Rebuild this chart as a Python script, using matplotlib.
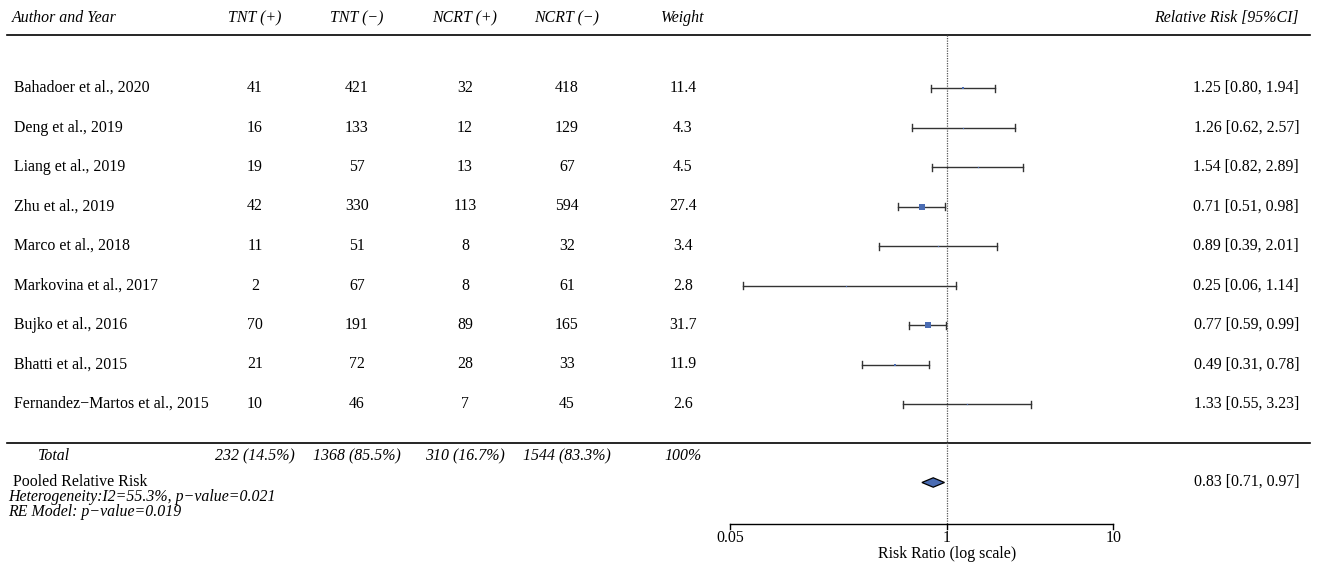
import numpy as np
import matplotlib
matplotlib.use('agg')
import matplotlib.pyplot as plt
from matplotlib.transforms import blended_transform_factory

plt.rcParams['font.family'] = ['Liberation Serif', 'DejaVu Serif']

studies = ["Bahadoer et al., 2020", "Deng et al., 2019", "Liang et al., 2019",
           "Zhu et al., 2019", "Marco et al., 2018", "Markovina et al., 2017",
           "Bujko et al., 2016", "Bhatti et al., 2015", "Fernandez\u2212Martos et al., 2015"]
tnt_pos = [41, 16, 19, 42, 11, 2, 70, 21, 10]
tnt_neg = [421, 133, 57, 330, 51, 67, 191, 72, 46]
ncrt_pos = [32, 12, 13, 113, 8, 8, 89, 28, 7]
ncrt_neg = [418, 129, 67, 594, 32, 61, 165, 33, 45]
weight = [11.4, 4.3, 4.5, 27.4, 3.4, 2.8, 31.7, 11.9, 2.6]
rr = [1.25, 1.26, 1.54, 0.71, 0.89, 0.25, 0.77, 0.49, 1.33]
lo = [0.80, 0.62, 0.82, 0.51, 0.39, 0.06, 0.59, 0.31, 0.55]
hi = [1.94, 2.57, 2.89, 0.98, 2.01, 1.14, 0.99, 0.78, 3.23]

totals = ["232 (14.5%)", "1368 (85.5%)", "310 (16.7%)", "1544 (83.3%)", "100%"]
pooled_rr, pooled_lo, pooled_hi = 0.83, 0.71, 0.97
headers = ["TNT (+)", "TNT (\u2212)", "NCRT (+)", "NCRT (\u2212)", "Weight"]
tick_vals = [0.05, 1, 10]
tick_labels = ["0.05", "1", "10"]

W, H = 1317, 565
fig = plt.figure(figsize=(W / 100, H / 100), dpi=100)
ax = fig.add_axes([0, 0, 1, 1])
ax.set_xscale('log')
# 166.5 px per decade, x=1 at px 946.7
x0 = 946.7
dec = 166.5
ax.set_xlim(10 ** (-x0 / dec), 10 ** ((W - x0) / dec))
ax.set_ylim(H, 0)
ax.axis('off')

tr = blended_transform_factory(ax.transAxes, ax.transData)
fs = 11.4
blue = '#4a6cb3'

col_x = [255, 357, 465, 567, 683]
right_x = 1299
row_y = [88 + 39.5 * i for i in range(len(studies))]

# header
ax.text(12 / W, 18, "Author and Year", transform=tr, ha='left', va='center', style='italic', fontsize=fs)
for cx, h in zip(col_x, headers):
    ax.text(cx / W, 18, h, transform=tr, ha='center', va='center', style='italic', fontsize=fs)
ax.text(right_x / W, 18, "Relative Risk [95%CI]", transform=tr, ha='right', va='center', style='italic', fontsize=fs)

# rules
ax.plot([7 / W, 1310 / W], [35, 35], transform=tr, color='black', lw=1.2)
ax.plot([7 / W, 1310 / W], [443, 443], transform=tr, color='black', lw=1.2)

# reference line at 1
ax.plot([1, 1], [35, 524], color='#555555', lw=0.9, ls=(0, (1, 1)))

for i, y in enumerate(row_y):
    ax.text(14 / W, y, studies[i], transform=tr, ha='left', va='center', fontsize=fs)
    vals = [tnt_pos[i], tnt_neg[i], ncrt_pos[i], ncrt_neg[i], weight[i]]
    for cx, v in zip(col_x, vals):
        ax.text(cx / W, y, str(v), transform=tr, ha='center', va='center', fontsize=fs)
    ax.text(right_x / W, y, "%.2f [%.2f, %.2f]" % (rr[i], lo[i], hi[i]), transform=tr,
            ha='right', va='center', fontsize=fs)
    ax.plot([lo[i], hi[i]], [y, y], color='#333333', lw=1.0)
    ax.plot([lo[i], lo[i]], [y - 3.5, y + 3.5], color='#333333', lw=1.0)
    ax.plot([hi[i], hi[i]], [y - 3.5, y + 3.5], color='#333333', lw=1.0)
    side = max(weight[i] * 0.19, 1.2) * 0.72
    ax.plot([rr[i]], [y], marker='s', ms=side, color=blue, mec=blue, mew=0, ls='none')

# totals
ax.text(38 / W, 456, "Total", transform=tr, ha='left', va='center', style='italic', fontsize=fs)
for cx, t in zip(col_x, totals):
    ax.text(cx / W, 456, t, transform=tr, ha='center', va='center', style='italic', fontsize=fs)

ax.text(13 / W, 482, "Pooled Relative Risk", transform=tr, ha='left', va='center', fontsize=fs)
ax.text(8 / W, 497, "Heterogeneity:I2=55.3%, p\u2212value=0.021", transform=tr, ha='left', va='center',
        style='italic', fontsize=fs)
ax.text(8 / W, 512, "RE Model: p\u2212value=0.019", transform=tr, ha='left', va='center',
        style='italic', fontsize=fs)
ax.text(right_x / W, 482, "%.2f [%.2f, %.2f]" % (pooled_rr, pooled_lo, pooled_hi), transform=tr,
        ha='right', va='center', fontsize=fs)

yd = 482.5
ax.fill([pooled_lo, pooled_rr, pooled_hi, pooled_rr], [yd, yd - 4.7, yd, yd + 4.7],
        facecolor=blue, edgecolor='black', lw=0.9)

# x axis
ax.plot([tick_vals[0], tick_vals[-1]], [524, 524], color='black', lw=1.0)
for tv, tl in zip(tick_vals, tick_labels):
    ax.plot([tv, tv], [524, 528.5], color='black', lw=1.0)
    ax.text(tv, 538, tl, ha='center', va='center', fontsize=fs)
ax.text(1, 554, "Risk Ratio (log scale)", ha='center', va='center', fontsize=fs)

fig.savefig('out.png', dpi=100)
